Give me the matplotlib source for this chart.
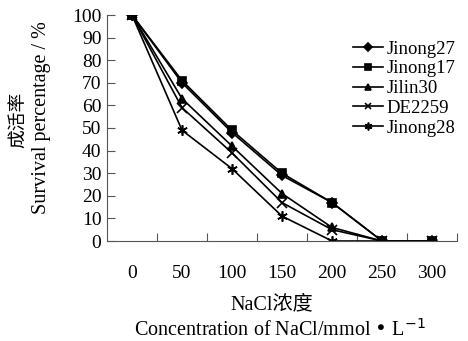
import matplotlib
matplotlib.use("Agg")
import matplotlib.pyplot as plt

SERIF = ["Liberation Serif", "DejaVu Serif"]
MIXED = ["Liberation Serif", "Noto Sans CJK SC"]

nacl = [0, 50, 100, 150, 200, 250, 300]
jinong27 = [100, 70, 48, 29, 17, 0, 0]
jinong17 = [100, 71, 49, 30, 17, 0, 0]
jilin30 = [100, 63, 42, 21, 6, 0, 0]
de2259 = [100, 59, 39, 17, 5, 0, 0]
jinong28 = [100, 49, 32, 11, 0, 0, 0]

series = [
    ("Jinong27", jinong27, "D", 5),
    ("Jinong17", jinong17, "s", 5.5),
    ("Jilin30", jilin30, "^", 6),
    ("DE2259", de2259, "x", 6.5),
    ("Jinong28", jinong28, (6, 2, 0), 7.5),
]

plt.rcParams["font.family"] = SERIF

fig = plt.figure(figsize=(4.68, 3.41), dpi=100)
ax = fig.add_axes([107 / 468, 100 / 341, 350 / 468, 226 / 341])

for name, vals, mk, ms in series:
    ax.plot(nacl, vals, color="black", lw=1.2, marker=mk, ms=ms,
            mew=1.2, mfc="black", mec="black", label=name)

ax.set_xlim(-25, 325)
ax.set_ylim(0, 100)
ax.set_yticks(range(0, 101, 10))
ax.set_xticks([25, 75, 125, 175, 225, 275, 325])
ax.set_xticklabels([])
ax.set_xticks(nacl, minor=True)
ax.set_xticklabels([str(v) for v in nacl], minor=True)
ax.tick_params(axis="x", which="minor", length=0, pad=17, labelsize=14)
ax.tick_params(axis="x", which="major", direction="in", length=6, color="#555555")
ax.tick_params(axis="y", direction="in", length=6, color="#555555", labelsize=14, pad=4)
for s in ("top", "right"):
    ax.spines[s].set_visible(False)
for s in ("left", "bottom"):
    ax.spines[s].set_color("#555555")

fig.text(0.04, 0.648, "成活率", rotation=90, ha="center", va="center",
         fontsize=13.5, family="Noto Sans CJK SC")
fig.text(0.088, 0.654, "Survival percentage / %", rotation=90, ha="center",
         va="center", fontsize=14.5)
fig.text(0.58, 0.105, "NaCl浓度", ha="center", va="center", fontsize=14.5, family=MIXED)
fig.text(0.598, 0.033, "Concentration of NaCl/mmol • L$^{-1}$", ha="center",
         va="center", fontsize=14.5)

ax.legend(loc="upper left", bbox_to_anchor=(0.68, 0.92), frameon=False,
          fontsize=13.5, handlelength=1.6, handletextpad=0.2, labelspacing=0.14,
          markerscale=0.75, borderaxespad=0)

fig.savefig("out.png", dpi=100)
